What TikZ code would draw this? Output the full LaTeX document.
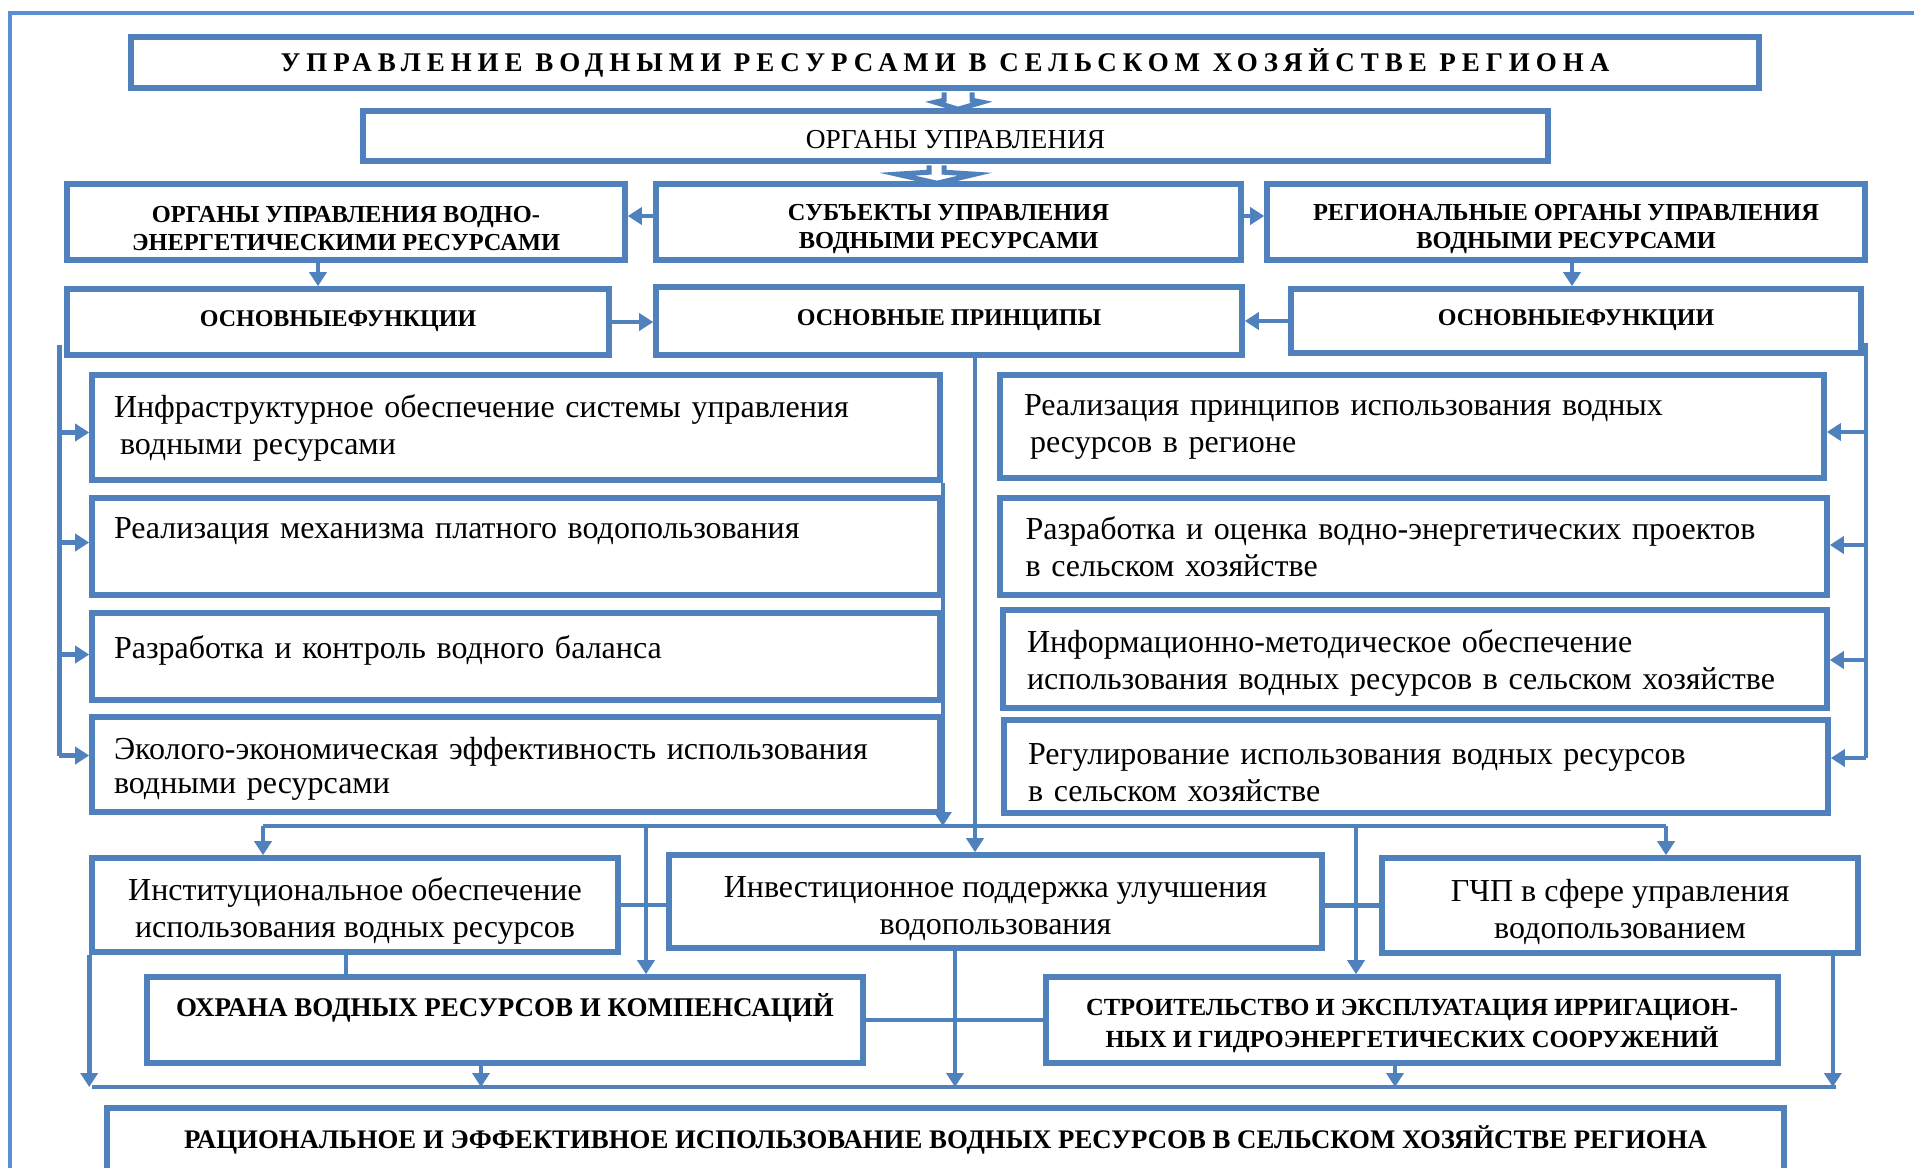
\documentclass[tikz,border=0pt]{standalone}
\usepackage{fontspec}
\setmainfont{Liberation Serif}
\usetikzlibrary{arrows.meta,calc}
\definecolor{bblue}{HTML}{4F81BD}
\definecolor{fblue}{HTML}{5A8FD6}
\begin{document}
\begin{tikzpicture}[x=0.5pt,y=-0.5pt,
  box/.style={draw=bblue, line width=2.8pt, fill=white, inner sep=0pt, align=center},
  capsb/.style={font=\bfseries\fontsize{12.2}{14}\selectfont},
  plaintext/.style={font=\fontsize{16}{18.5}\selectfont},
  lbox/.style={box, plaintext, align=left, inner xsep=11pt, text width=402pt, minimum width=424pt},
  rbox/.style={box, plaintext, align=left, inner xsep=12pt, text width=388pt, minimum width=412pt},
  mbox/.style={box, font=\fontsize{16}{18.5}\selectfont, text height=36pt},
  conn/.style={draw=bblue, line width=2.3pt},
  arr/.style={conn, -{Triangle[length=7pt,width=8.5pt]}},
  blk/.style={draw=bblue, line width=2.5pt, fill=white, line join=miter}
]
\useasboundingbox (0,0) rectangle (1914,1167);
\fill[white] (0,0) rectangle (1914,1167);
% outer frame
\draw[fblue, line width=2pt] (10,1180) -- (10,12.5) -- (1930,12.5);

% top
\node[box, minimum width=814pt, minimum height=25.5pt, text height=11.5pt,
  font=\bfseries\fontsize{13.5}{15}\selectfont\addfontfeature{LetterSpace=22}] (T) at (945,62.5)
  {УПРАВЛЕНИЕ ВОДНЫМИ РЕСУРСАМИ В СЕЛЬСКОМ ХОЗЯЙСТВЕ РЕГИОНА};
\node[box, minimum width=592.5pt, minimum height=25pt, text height=12.6pt, font=\fontsize{13.7}{15}\selectfont] (O) at (955.5,136)
  {ОРГАНЫ УПРАВЛЕНИЯ};

% row 2
\node[box, capsb, minimum width=279pt, minimum height=38pt, text height=29pt] (A) at (346,222)
  {ОРГАНЫ УПРАВЛЕНИЯ ВОДНО-\\ЭНЕРГЕТИЧЕСКИМИ РЕСУРСАМИ};
\node[box, capsb, minimum width=292.5pt, minimum height=38pt, text height=29pt] (B) at (948.5,222)
  {СУБЪЕКТЫ УПРАВЛЕНИЯ\\ВОДНЫМИ РЕСУРСАМИ};
\node[box, capsb, minimum width=299pt, minimum height=38pt, text height=29pt] (C) at (1566,222)
  {РЕГИОНАЛЬНЫЕ ОРГАНЫ УПРАВЛЕНИЯ\\ВОДНЫМИ РЕСУРСАМИ};

% row 3
\node[box, font=\bfseries\fontsize{12}{13.5}\selectfont, minimum width=271pt, minimum height=33pt, text depth=3pt] (D) at (338,322) {ОСНОВНЫЕФУНКЦИИ};
\node[box, font=\bfseries\fontsize{12}{13.5}\selectfont, minimum width=293pt, minimum height=34pt, text depth=3pt] (E) at (949,321) {ОСНОВНЫЕ ПРИНЦИПЫ};
\node[box, font=\bfseries\fontsize{12}{13.5}\selectfont, minimum width=285pt, minimum height=32pt, text depth=3pt] (F) at (1576,321) {ОСНОВНЫЕФУНКЦИИ};

% left functions
\node[lbox, minimum height=52.5pt] (L1) at (516,427.5)
  {Инфраструктурное обеспечение системы управления\\\hspace*{3pt}водными ресурсами};
\node[lbox, minimum height=48.5pt] (L2) at (516,546.5)
  {Реализация механизма платного водопользования\\\mbox{}};
\node[lbox, minimum height=43.5pt] (L3) at (516,656.5)
  {Разработка и контроль водного баланса\\[-9pt]\mbox{}};
\node[lbox, minimum height=47.5pt, text height=15.5pt] (L4) at (516,764.5)
  {Эколого-экономическая эффективность использования\\[-1.5pt]водными ресурсами};

% right principles
\node[rbox, minimum height=51.5pt] (R1) at (1412,426.5)
  {Реализация принципов использования водных\\\hspace*{3pt}ресурсов в регионе};
\node[rbox, minimum height=48.5pt, minimum width=413.5pt] (R2) at (1413.5,546.5)
  {Разработка и оценка водно-энергетических проектов\\в сельском хозяйстве};
\node[rbox, minimum height=49pt, text height=15pt] (R3) at (1415,659)
  {Информационно-методическое обеспечение\\использования водных ресурсов в сельском хозяйстве};
\node[rbox, minimum height=46.5pt, text height=17pt] (R4) at (1416,766.5)
  {Регулирование использования водных ресурсов\\в сельском хозяйстве};

% middle row
\node[mbox, minimum width=263pt, minimum height=47pt] (M1) at (355,905)
  {Институциональное обеспечение\\использования водных ресурсов};
\node[mbox, minimum width=326.5pt, minimum height=46.5pt] (M2) at (995.5,901.5)
  {Инвестиционное поддержка улучшения\\водопользования};
\node[mbox, minimum width=238pt, minimum height=47.5pt] (M3) at (1620,905.5)
  {ГЧП в сфере управления\\водопользованием};

% lower row
\node[box, font=\bfseries\fontsize{13.5}{15.5}\selectfont, minimum width=358pt, minimum height=43pt] (N1) at (505,1020)
  {ОХРАНА ВОДНЫХ РЕСУРСОВ И КОМПЕНСАЦИЙ\\\mbox{}};
\node[box, font=\bfseries\fontsize{12.3}{16}\selectfont, minimum width=366pt, minimum height=43pt, text height=30pt] (N2) at (1412,1020)
  {СТРОИТЕЛЬСТВО И ЭКСПЛУАТАЦИЯ ИРРИГАЦИОН-\\НЫХ И ГИДРОЭНЕРГЕТИЧЕСКИХ СООРУЖЕНИЙ};

% goal
\node[box, font=\bfseries\fontsize{13.4}{15}\selectfont, minimum width=838.5pt, minimum height=32pt] (G) at (945.5,1140)
  {РАЦИОНАЛЬНОЕ И ЭФФЕКТИВНОЕ ИСПОЛЬЗОВАНИЕ ВОДНЫХ РЕСУРСОВ В СЕЛЬСКОМ ХОЗЯЙСТВЕ РЕГИОНА};

% block arrows
\draw[blk] ($(T.south)+(-1,1.5)$) -- ($(O.north)+(-11.5,-8)$) -- ($(O.north)+(-20.5,-6)$)
  -- ($(O.north)+(2.5,1)$) -- ($(O.north)+(26.5,-6)$) -- ($(O.north)+(16.5,-8)$) -- ($(T.south)+(27,1.5)$);
\draw[blk] ($(O.south)+(-26.5,1.5)$) -- ($(B.north)+(-19.5,-9)$) -- ($(B.north)+(-51.5,-7)$)
  -- ($(B.north)+(-11.5,2)$) -- ($(B.north)+(26.5,-7)$) -- ($(B.north)+(-4.5,-9)$) -- ($(O.south)+(-11.5,1.5)$);

% row 2 arrows
\draw[arr] ($(B.west)+(0,-6)$) -- ($(A.east)+(0,-6)$);
\draw[arr] ($(B.east)+(0,-6)$) -- ($(C.west)+(0,-6)$);
\coordinate (a1) at ($(A.south)+(-28,0)$);
\draw[arr] (a1) -- (a1 |- D.north);
\coordinate (c1) at ($(C.south)+(6,0)$);
\draw[arr] (c1) -- (c1 |- F.north);
\draw[arr] (D.east) -- (D.east -| E.west);
\draw[arr] (F.west) -- (F.west -| E.east);

% left bracket
\coordinate (bl) at ($(D.south west)+(-5,-13)$);
\coordinate (l1) at ($(L1.west)+(0,5)$);
\coordinate (l2) at ($(L2.west)+(0,-4)$);
\coordinate (l3) at ($(L3.west)+(0,-2)$);
\coordinate (l4) at ($(L4.west)+(0,-9)$);
\draw[conn] (bl) -- (bl |- l4);
\foreach \c in {l1,l2,l3,l4} \draw[arr] (bl |- \c) -- (\c);

% right bracket
\coordinate (br) at ($(F.south east)+(2,-13)$);
\coordinate (r1) at ($(R1.east)+(0,5.5)$);
\coordinate (r2) at ($(R2.east)+(0,-1.5)$);
\coordinate (r3) at ($(R3.east)+(0,1)$);
\coordinate (r4) at ($(R4.east)+(0,-8.5)$);
\draw[conn] (br) -- (br |- r4);
\foreach \c in {r1,r2,r3,r4} \draw[arr] (br |- \c) -- (\c);

% distribution bus
\coordinate (busL) at (263,826);
\coordinate (busR) at (1666,826);
\draw[conn] (busL) -- (busR);
\draw[arr] (busL) -- (busL |- M1.north);
\draw[arr] (busR) -- (busR |- M3.north);
\coordinate (n1t) at ($(N1.north)+(141,0)$);
\draw[arr] (n1t |- busL) -- (n1t);
\coordinate (n2t) at ($(N2.north)+(-56,0)$);
\draw[arr] (n2t |- busL) -- (n2t);
\draw[arr] (L1.south east) -- (L1.south east |- busL);
\coordinate (e1) at ($(E.south)+(26,0)$);
\draw[arr] (e1) -- (e1 |- M2.north);

% middle connectors
\draw[conn] (M1.east) -- (M1.east -| M2.west);
\draw[conn] (M3.west) -- (M3.west -| M2.east);
\coordinate (m1b) at ($(M1.south)+(-9,0)$);
\draw[conn] (m1b) -- (m1b |- N1.north);
\draw[conn] (N1.east) -- (N2.west);

% bottom collector
\coordinate (botL) at (92,1087);
\coordinate (botR) at (1836,1087);
\draw[conn] (botL) -- (botR);
\draw[arr] (M1.south west) -- (M1.south west |- botL);
\coordinate (n1b) at ($(N1.south)+(-24,0)$);
\draw[arr] (n1b) -- (n1b |- botL);
\coordinate (m2b) at ($(M2.south)+(-40.5,0)$);
\draw[arr] (m2b) -- (m2b |- botL);
\coordinate (n2b) at ($(N2.south)+(-17,0)$);
\draw[arr] (n2b) -- (n2b |- botL);
\coordinate (m3b) at ($(M3.south east)+(-28,0)$);
\draw[arr] (m3b) -- (m3b |- botL);
\end{tikzpicture}
\end{document}
